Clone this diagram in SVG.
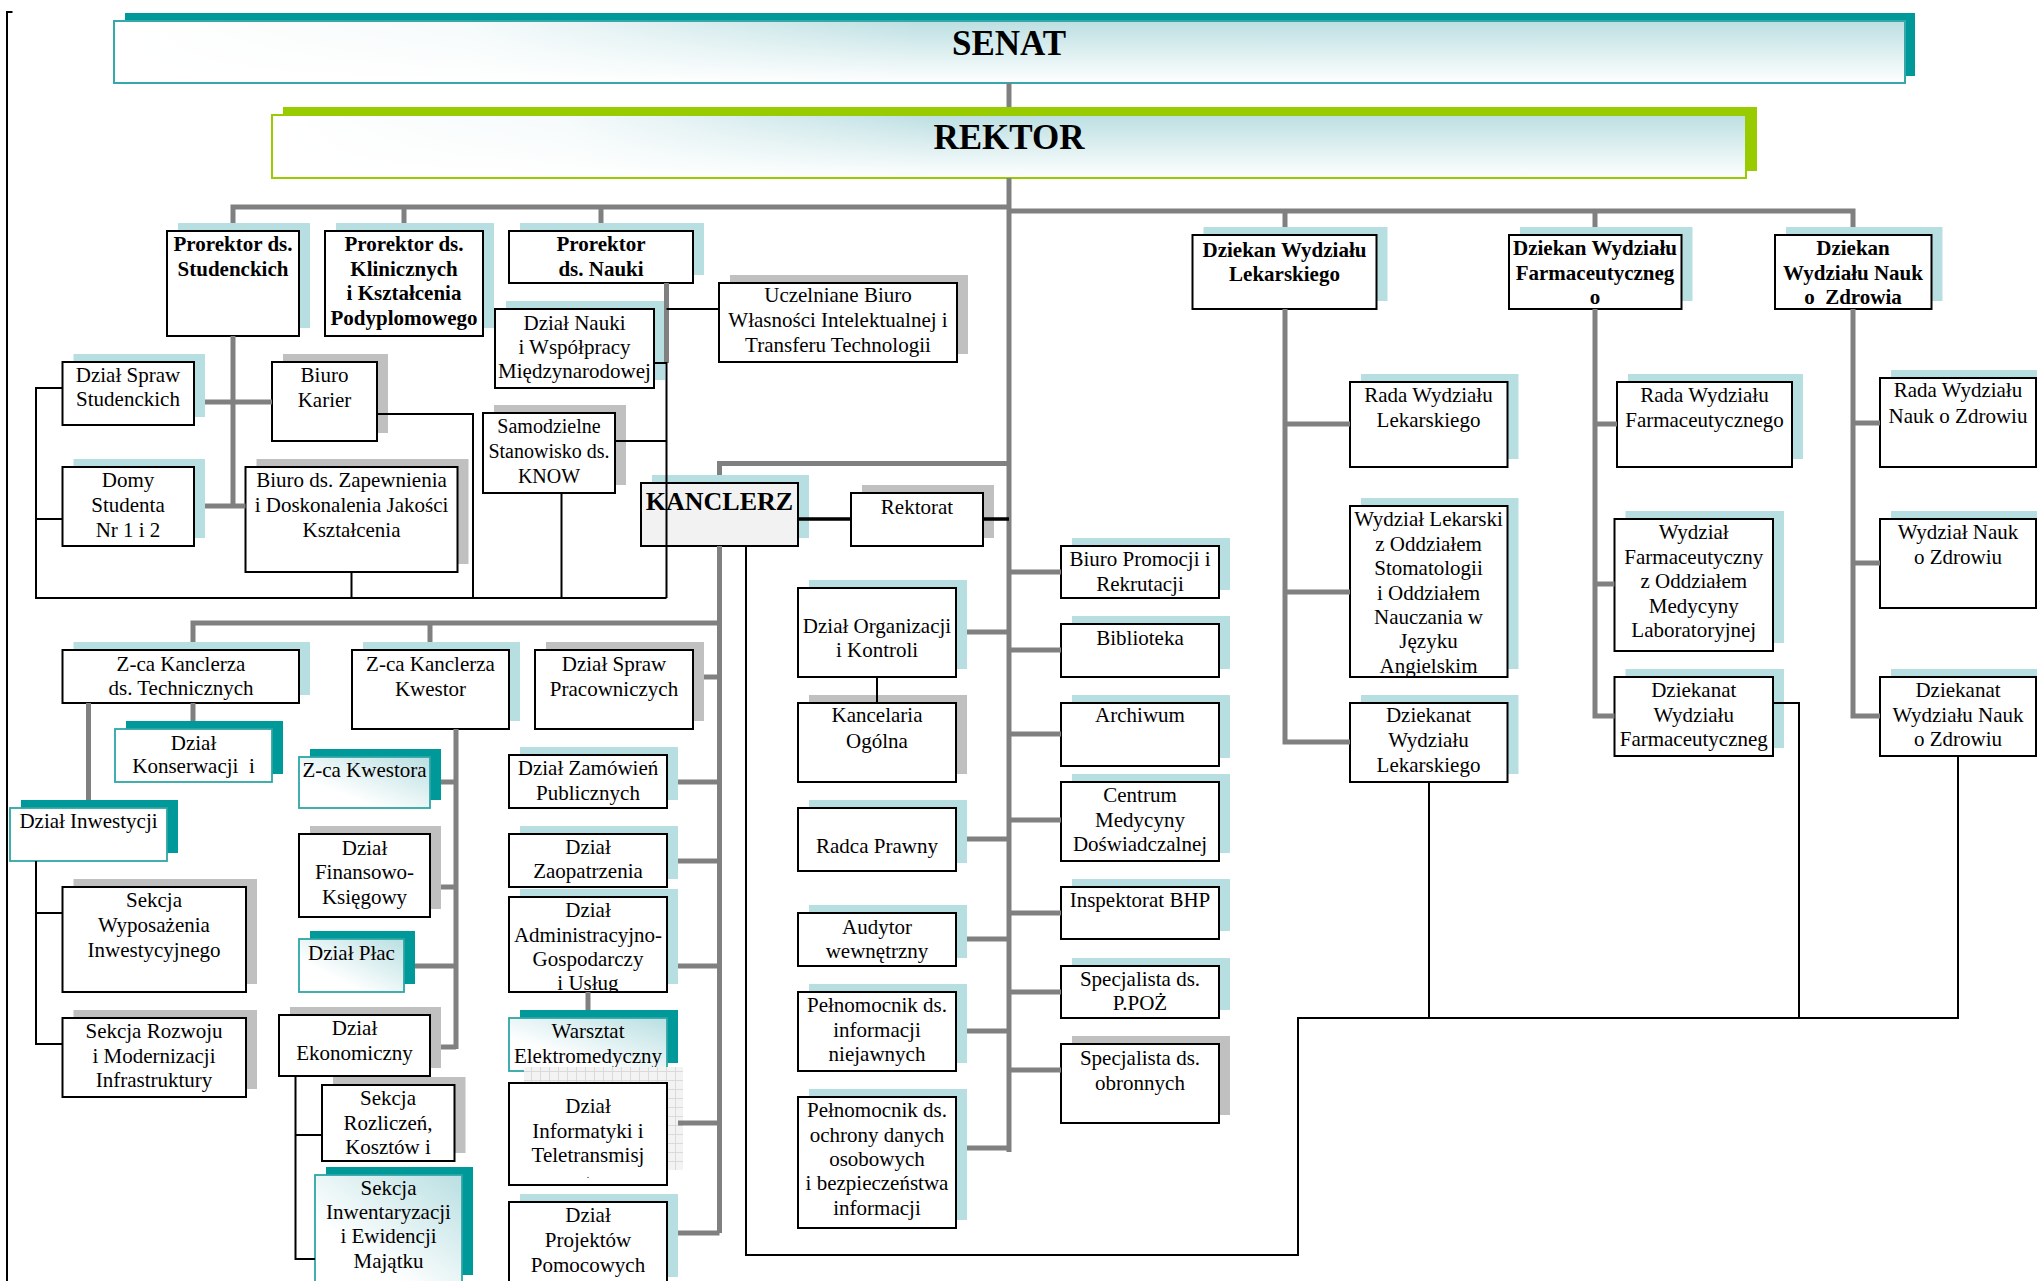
<svg xmlns="http://www.w3.org/2000/svg" width="2037" height="1281" viewBox="0 0 2037 1281">
<defs>
<linearGradient id="gv" x1="0" y1="0" x2="0" y2="1">
<stop offset="0" stop-color="#bcdfe2"/><stop offset="1" stop-color="#ffffff"/>
</linearGradient>
<linearGradient id="gh" x1="0" y1="0" x2="1" y2="0">
<stop offset="0" stop-color="#fff" stop-opacity="1"/><stop offset="0.2" stop-color="#fff" stop-opacity="0.85"/><stop offset="0.45" stop-color="#fff" stop-opacity="0"/>
</linearGradient>
<linearGradient id="gt" x1="0" y1="1" x2="1" y2="0">
<stop offset="0.3" stop-color="#ffffff"/><stop offset="1" stop-color="#b9dfe2"/>
</linearGradient>
<pattern id="grid" width="9" height="9" patternUnits="userSpaceOnUse">
<rect width="9" height="9" fill="#f3f3f3"/><path d="M0 0.5H9M0.5 0V9" stroke="#dadada" stroke-width="1"/>
</pattern>
<clipPath id="cAdm"><rect x="509" y="897" width="158" height="95"/></clipPath>
<clipPath id="cWL"><rect x="1350" y="506" width="157.5" height="171"/></clipPath>
<style>
.bx{fill:#fff;stroke:#000;stroke-width:2}
.tw{fill:#fff;stroke:#2ea6a6;stroke-width:1.8}
.tg{fill:url(#gt);stroke:#2ea6a6;stroke-width:1.8}
.lb{fill:#b7dfe2}
.gr{fill:#c0c0c0}
.te{fill:#009999}
.t{font-family:"Liberation Serif","Times New Roman",serif;font-size:21px;text-anchor:middle;fill:#000}
.b{font-weight:bold}
.c{fill:none;stroke:#808080;stroke-width:5}
.k{fill:none;stroke:#000;stroke-width:2}
.kk{fill:none;stroke:#000;stroke-width:3.5}
</style>
</defs>
<rect width="2037" height="1281" fill="#fff"/>

<g id="senat">
<rect class="te" x="125" y="13" width="1790" height="63"/>
<rect x="114" y="21" width="1791" height="62" fill="url(#gv)" stroke="#35a9a9" stroke-width="2"/>
<rect x="115" y="22" width="1789" height="60" fill="url(#gh)"/>
<text class="t b" x="1009" y="55" style="font-size:35px">SENAT</text>
</g>

<g id="rektor">
<rect x="283" y="107" width="1474" height="64" fill="#99cc00"/>
<rect x="272" y="115" width="1474" height="63" fill="url(#gv)" stroke="#99cc00" stroke-width="2"/>
<rect x="273" y="116" width="1472" height="61" fill="url(#gh)"/>
<text class="t b" x="1009" y="149" style="font-size:35px">REKTOR</text>
</g>

<g id="prorektor-studenckich">
<rect class="lb" x="178" y="223" width="132" height="105"/>
<rect class="bx" x="167" y="231" width="132" height="105"/>
<text class="t b"><tspan x="233" y="251">Prorektor ds.</tspan><tspan x="233" y="276">Studenckich</tspan></text>
</g>
<g id="prorektor-klinicznych">
<rect class="lb" x="336" y="223" width="158" height="105"/>
<rect class="bx" x="325" y="231" width="158" height="105"/>
<text class="t b"><tspan x="404" y="251">Prorektor ds.</tspan><tspan x="404" y="276">Klinicznych</tspan><tspan x="404" y="300">i Kształcenia</tspan><tspan x="404" y="325">Podyplomowego</tspan></text>
</g>
<g id="prorektor-nauki">
<rect class="lb" x="520" y="223" width="184" height="52"/>
<rect class="bx" x="509" y="231" width="184" height="52"/>
<text class="t b"><tspan x="601" y="251">Prorektor</tspan><tspan x="601" y="276">ds. Nauki</tspan></text>
</g>
<g id="uczelniane-biuro">
<rect class="gr" x="730" y="275" width="238" height="79"/>
<rect class="bx" x="719" y="283" width="238" height="79"/>
<text class="t"><tspan x="838" y="302">Uczelniane Biuro</tspan><tspan x="838" y="327">Własności Intelektualnej i</tspan><tspan x="838" y="352">Transferu Technologii</tspan></text>
</g>
<g id="dzial-nauki">
<rect class="lb" x="506" y="301" width="159" height="79"/>
<rect class="bx" x="495" y="309" width="159" height="79"/>
<text class="t"><tspan x="574.5" y="330">Dział Nauki</tspan><tspan x="574.5" y="354">i Współpracy</tspan><tspan x="574.5" y="378">Międzynarodowej</tspan></text>
</g>
<g id="dzial-spraw-studenckich">
<rect class="lb" x="73.5" y="354" width="131.5" height="63"/>
<rect class="bx" x="62.5" y="362" width="131.5" height="63"/>
<text class="t"><tspan x="128" y="382">Dział Spraw</tspan><tspan x="128" y="406">Studenckich</tspan></text>
</g>
<g id="biuro-karier">
<rect class="gr" x="283" y="354" width="105" height="79"/>
<rect class="bx" x="272" y="362" width="105" height="79"/>
<text class="t"><tspan x="324.5" y="382">Biuro</tspan><tspan x="324.5" y="407">Karier</tspan></text>
</g>
<g id="know">
<rect class="gr" x="494" y="405" width="132" height="80"/>
<rect class="bx" x="483" y="413" width="132" height="80"/>
<text class="t" style="font-size:20px"><tspan x="549" y="433">Samodzielne</tspan><tspan x="549" y="458">Stanowisko ds.</tspan><tspan x="549" y="483">KNOW</tspan></text>
</g>
<g id="domy-studenta">
<rect class="lb" x="73.5" y="459" width="131.5" height="79"/>
<rect class="bx" x="62.5" y="467" width="131.5" height="79"/>
<text class="t"><tspan x="128" y="487">Domy</tspan><tspan x="128" y="512">Studenta</tspan><tspan x="128" y="537">Nr 1 i 2</tspan></text>
</g>
<g id="biuro-jakosci">
<rect class="gr" x="256.5" y="459" width="212" height="105"/>
<rect class="bx" x="245.5" y="467" width="212" height="105"/>
<text class="t"><tspan x="351.5" y="487">Biuro ds. Zapewnienia</tspan><tspan x="351.5" y="512">i Doskonalenia Jakości</tspan><tspan x="351.5" y="537">Kształcenia</tspan></text>
</g>

<g id="kanclerz">
<rect class="lb" x="652" y="475" width="157" height="63"/>
<rect x="641" y="483" width="157" height="63" fill="#f2f2f2" stroke="#000" stroke-width="2"/>
<text class="t b" x="719.5" y="510" style="font-size:26px">KANCLERZ</text>
</g>
<g id="rektorat">
<rect class="gr" x="862" y="485" width="132" height="53"/>
<rect class="bx" x="851" y="493" width="132" height="53"/>
<text class="t" x="917" y="514">Rektorat</text>
</g>

<g id="biuro-promocji">
<rect class="lb" x="1072" y="538" width="158" height="52"/>
<rect class="bx" x="1061" y="546" width="158" height="52"/>
<text class="t"><tspan x="1140" y="566">Biuro Promocji i</tspan><tspan x="1140" y="591">Rekrutacji</tspan></text>
</g>
<g id="biblioteka">
<rect class="lb" x="1072" y="616" width="158" height="53"/>
<rect class="bx" x="1061" y="624" width="158" height="53"/>
<text class="t" x="1140" y="645">Biblioteka</text>
</g>
<g id="archiwum">
<rect class="lb" x="1072" y="695" width="158" height="63"/>
<rect class="bx" x="1061" y="703" width="158" height="63"/>
<text class="t" x="1140" y="722">Archiwum</text>
</g>
<g id="centrum-medycyny">
<rect class="lb" x="1072" y="774" width="158" height="79"/>
<rect class="bx" x="1061" y="782" width="158" height="79"/>
<text class="t"><tspan x="1140" y="802">Centrum</tspan><tspan x="1140" y="827">Medycyny</tspan><tspan x="1140" y="851">Doświadczalnej</tspan></text>
</g>
<g id="inspektorat-bhp">
<rect class="lb" x="1072" y="879" width="158" height="52"/>
<rect class="bx" x="1061" y="887" width="158" height="52"/>
<text class="t" x="1140" y="907">Inspektorat BHP</text>
</g>
<g id="specjalista-ppoz">
<rect class="lb" x="1072" y="958" width="158" height="52"/>
<rect class="bx" x="1061" y="966" width="158" height="52"/>
<text class="t"><tspan x="1140" y="986">Specjalista ds.</tspan><tspan x="1140" y="1010">P.POŻ</tspan></text>
</g>
<g id="specjalista-obronnych">
<rect class="gr" x="1072" y="1036" width="158" height="79"/>
<rect class="bx" x="1061" y="1044" width="158" height="79"/>
<text class="t"><tspan x="1140" y="1065">Specjalista ds.</tspan><tspan x="1140" y="1090">obronnych</tspan></text>
</g>

<g id="dzial-organizacji">
<rect class="lb" x="809" y="580" width="158" height="89"/>
<rect class="bx" x="798" y="588" width="158" height="89"/>
<text class="t"><tspan x="877" y="633">Dział Organizacji</tspan><tspan x="877" y="657">i Kontroli</tspan></text>
</g>
<g id="kancelaria">
<rect class="gr" x="809" y="695" width="158" height="79"/>
<rect class="bx" x="798" y="703" width="158" height="79"/>
<text class="t"><tspan x="877" y="722">Kancelaria</tspan><tspan x="877" y="748">Ogólna</tspan></text>
</g>
<g id="radca-prawny">
<rect class="lb" x="809" y="800" width="158" height="63"/>
<rect class="bx" x="798" y="808" width="158" height="63"/>
<text class="t" x="877" y="853">Radca Prawny</text>
</g>
<g id="audytor">
<rect class="lb" x="809" y="905" width="158" height="53"/>
<rect class="bx" x="798" y="913" width="158" height="53"/>
<text class="t"><tspan x="877" y="934">Audytor</tspan><tspan x="877" y="958">wewnętrzny</tspan></text>
</g>
<g id="pelnomocnik-niejawne">
<rect class="lb" x="809" y="984" width="158" height="79"/>
<rect class="bx" x="798" y="992" width="158" height="79"/>
<text class="t"><tspan x="877" y="1012">Pełnomocnik ds.</tspan><tspan x="877" y="1037">informacji</tspan><tspan x="877" y="1061">niejawnych</tspan></text>
</g>
<g id="pelnomocnik-ochrona">
<rect class="lb" x="809" y="1089" width="158" height="131"/>
<rect class="bx" x="798" y="1097" width="158" height="131"/>
<text class="t"><tspan x="877" y="1117">Pełnomocnik ds.</tspan><tspan x="877" y="1142">ochrony danych</tspan><tspan x="877" y="1166">osobowych</tspan><tspan x="877" y="1190">i bezpieczeństwa</tspan><tspan x="877" y="1215">informacji</tspan></text>
</g>

<g id="zca-technicznych">
<rect class="lb" x="73.5" y="642" width="236.5" height="53"/>
<rect class="bx" x="62.5" y="650" width="236.5" height="53"/>
<text class="t"><tspan x="181" y="671">Z-ca Kanclerza</tspan><tspan x="181" y="695">ds. Technicznych</tspan></text>
</g>
<g id="zca-kwestor">
<rect class="lb" x="363" y="642" width="157" height="79"/>
<rect class="bx" x="352" y="650" width="157" height="79"/>
<text class="t"><tspan x="430.5" y="671">Z-ca Kanclerza</tspan><tspan x="430.5" y="696">Kwestor</tspan></text>
</g>
<g id="dzial-spraw-pracowniczych">
<rect class="gr" x="546" y="642" width="158" height="79"/>
<rect class="bx" x="535" y="650" width="158" height="79"/>
<text class="t"><tspan x="614" y="671">Dział Spraw</tspan><tspan x="614" y="696">Pracowniczych</tspan></text>
</g>
<g id="dzial-konserwacji">
<rect class="te" x="126" y="721" width="157" height="53"/>
<rect class="tw" x="115" y="729" width="157" height="53"/>
<text class="t"><tspan x="193.5" y="750">Dział</tspan><tspan x="193.5" y="773">Konserwacji&#160; i</tspan></text>
</g>
<g id="zca-kwestora">
<rect class="te" x="310" y="749" width="131" height="51"/>
<rect class="tg" x="299" y="757" width="131" height="51"/>
<text class="t" x="364.5" y="777">Z-ca Kwestora</text>
</g>
<g id="dzial-zamowien">
<rect class="lb" x="520" y="747" width="158" height="53"/>
<rect class="bx" x="509" y="755" width="158" height="53"/>
<text class="t"><tspan x="588" y="775">Dział Zamówień</tspan><tspan x="588" y="800">Publicznych</tspan></text>
</g>
<g id="dzial-inwestycji">
<rect class="te" x="21" y="800" width="157" height="53"/>
<rect class="tw" x="10" y="808" width="157" height="53"/>
<text class="t" x="88.5" y="828">Dział Inwestycji</text>
</g>
<g id="dzial-finansowo">
<rect class="gr" x="310" y="826" width="131" height="83"/>
<rect class="bx" x="299" y="834" width="131" height="83"/>
<text class="t"><tspan x="364.5" y="855">Dział</tspan><tspan x="364.5" y="879">Finansowo-</tspan><tspan x="364.5" y="904">Księgowy</tspan></text>
</g>
<g id="dzial-zaopatrzenia">
<rect class="lb" x="520" y="826" width="158" height="53"/>
<rect class="bx" x="509" y="834" width="158" height="53"/>
<text class="t"><tspan x="588" y="854">Dział</tspan><tspan x="588" y="878">Zaopatrzenia</tspan></text>
</g>
<g id="sekcja-wyposazenia">
<rect class="gr" x="73.5" y="879" width="183.5" height="105"/>
<rect class="bx" x="62.5" y="887" width="183.5" height="105"/>
<text class="t"><tspan x="154" y="907">Sekcja</tspan><tspan x="154" y="932">Wyposażenia</tspan><tspan x="154" y="957">Inwestycyjnego</tspan></text>
</g>
<g id="dzial-administracyjny">
<rect class="lb" x="520" y="889" width="158" height="95"/>
<rect class="bx" x="509" y="897" width="158" height="95"/>
<text class="t" clip-path="url(#cAdm)"><tspan x="588" y="917">Dział</tspan><tspan x="588" y="942">Administracyjno-</tspan><tspan x="588" y="966">Gospodarczy</tspan><tspan x="588" y="990">i Usług</tspan></text>
</g>
<g id="dzial-plac">
<rect class="te" x="310" y="931" width="105" height="53"/>
<rect class="tg" x="299" y="939" width="105" height="53"/>
<text class="t" x="351.5" y="960">Dział Płac</text>
</g>
<g id="warsztat">
<rect class="te" x="520" y="1010" width="158" height="53"/>
<rect class="tg" x="509" y="1018" width="158" height="53"/>
<text class="t"><tspan x="588" y="1038">Warsztat</tspan><tspan x="588" y="1063">Elektromedyczny</tspan></text>
</g>
<g id="dzial-ekonomiczny">
<rect class="gr" x="290" y="1007" width="151" height="61"/>
<rect class="bx" x="279" y="1015" width="151" height="61"/>
<text class="t"><tspan x="354.5" y="1035">Dział</tspan><tspan x="354.5" y="1060">Ekonomiczny</tspan></text>
</g>
<g id="sekcja-rozwoju">
<rect class="gr" x="73.5" y="1010" width="183.5" height="79"/>
<rect class="bx" x="62.5" y="1018" width="183.5" height="79"/>
<text class="t"><tspan x="154" y="1038">Sekcja Rozwoju</tspan><tspan x="154" y="1063">i Modernizacji</tspan><tspan x="154" y="1087">Infrastruktury</tspan></text>
</g>
<g id="dzial-informatyki">
<rect x="524" y="1067" width="159" height="103" fill="url(#grid)"/>
<rect class="bx" x="509" y="1083" width="158" height="102"/>
<text class="t"><tspan x="588" y="1113">Dział</tspan><tspan x="588" y="1138">Informatyki i</tspan><tspan x="588" y="1162">Teletransmisj</tspan></text>
<text class="t" x="588" y="1178" style="font-size:10px">.</text>
</g>
<g id="sekcja-rozliczen">
<rect class="gr" x="333" y="1077" width="132.5" height="76"/>
<rect class="bx" x="322" y="1085" width="132.5" height="76"/>
<text class="t"><tspan x="388" y="1105">Sekcja</tspan><tspan x="388" y="1130">Rozliczeń,</tspan><tspan x="388" y="1154">Kosztów i</tspan></text>
</g>
<g id="sekcja-inwentaryzacji">
<rect class="te" x="326" y="1167" width="147" height="108"/>
<rect class="tg" x="315" y="1175" width="147" height="110"/>
<text class="t"><tspan x="388.5" y="1195">Sekcja</tspan><tspan x="388.5" y="1219">Inwentaryzacji</tspan><tspan x="388.5" y="1243">i Ewidencji</tspan><tspan x="388.5" y="1268">Majątku</tspan></text>
</g>
<g id="dzial-projektow">
<rect class="lb" x="520" y="1194" width="158" height="83"/>
<rect class="bx" x="509" y="1202" width="158" height="100"/>
<text class="t"><tspan x="588" y="1222">Dział</tspan><tspan x="588" y="1247">Projektów</tspan><tspan x="588" y="1272">Pomocowych</tspan></text>
</g>

<g id="dziekan-lekarski">
<rect class="lb" x="1203.5" y="227" width="184" height="74"/>
<rect class="bx" x="1192.5" y="235" width="184" height="74"/>
<text class="t b"><tspan x="1284.5" y="257">Dziekan Wydziału</tspan><tspan x="1284.5" y="281">Lekarskiego</tspan></text>
</g>
<g id="dziekan-farmaceutyczny">
<rect class="lb" x="1520" y="227" width="172.5" height="74"/>
<rect class="bx" x="1509" y="235" width="172.5" height="74"/>
<text class="t b"><tspan x="1595" y="255">Dziekan Wydziału</tspan><tspan x="1595" y="280">Farmaceutyczneg</tspan><tspan x="1595" y="304">o</tspan></text>
</g>
<g id="dziekan-nauk-o-zdrowiu">
<rect class="lb" x="1786" y="227" width="156.5" height="74"/>
<rect class="bx" x="1775" y="235" width="156.5" height="74"/>
<text class="t b"><tspan x="1853" y="255">Dziekan</tspan><tspan x="1853" y="280">Wydziału Nauk</tspan><tspan x="1853" y="304">o&#160; Zdrowia</tspan></text>
</g>
<g id="rada-lekarski">
<rect class="lb" x="1361" y="374" width="157.5" height="85"/>
<rect class="bx" x="1350" y="382" width="157.5" height="85"/>
<text class="t"><tspan x="1428.5" y="402">Rada Wydziału</tspan><tspan x="1428.5" y="427">Lekarskiego</tspan></text>
</g>
<g id="rada-farmaceutyczny">
<rect class="lb" x="1628" y="374" width="175" height="85"/>
<rect class="bx" x="1617" y="382" width="175" height="85"/>
<text class="t"><tspan x="1704.5" y="402">Rada Wydziału</tspan><tspan x="1704.5" y="427">Farmaceutycznego</tspan></text>
</g>
<g id="rada-nauk-o-zdrowiu">
<rect class="lb" x="1891" y="370" width="156" height="89"/>
<rect class="bx" x="1880" y="378" width="156" height="89"/>
<text class="t"><tspan x="1958" y="397">Rada Wydziału</tspan><tspan x="1958" y="423">Nauk o Zdrowiu</tspan></text>
</g>
<g id="wydzial-lekarski">
<rect class="lb" x="1361" y="498" width="157.5" height="171"/>
<rect class="bx" x="1350" y="506" width="157.5" height="171"/>
<text class="t" clip-path="url(#cWL)"><tspan x="1428.5" y="526">Wydział Lekarski</tspan><tspan x="1428.5" y="551">z Oddziałem</tspan><tspan x="1428.5" y="575">Stomatologii</tspan><tspan x="1428.5" y="600">i Oddziałem</tspan><tspan x="1428.5" y="624">Nauczania w</tspan><tspan x="1428.5" y="648">Języku</tspan><tspan x="1428.5" y="673">Angielskim</tspan></text>
</g>
<g id="wydzial-farmaceutyczny">
<rect class="lb" x="1625.5" y="511" width="158.5" height="132"/>
<rect class="bx" x="1614.5" y="519" width="158.5" height="132"/>
<text class="t"><tspan x="1693.75" y="539">Wydział</tspan><tspan x="1693.75" y="564">Farmaceutyczny</tspan><tspan x="1693.75" y="588">z Oddziałem</tspan><tspan x="1693.75" y="613">Medycyny</tspan><tspan x="1693.75" y="637">Laboratoryjnej</tspan></text>
</g>
<g id="wydzial-nauk-o-zdrowiu">
<rect class="lb" x="1891" y="511" width="156" height="89"/>
<rect class="bx" x="1880" y="519" width="156" height="89"/>
<text class="t"><tspan x="1958" y="539">Wydział Nauk</tspan><tspan x="1958" y="564">o Zdrowiu</tspan></text>
</g>
<g id="dziekanat-lekarski">
<rect class="lb" x="1361" y="695" width="157.5" height="79"/>
<rect class="bx" x="1350" y="703" width="157.5" height="79"/>
<text class="t"><tspan x="1428.5" y="722">Dziekanat</tspan><tspan x="1428.5" y="747">Wydziału</tspan><tspan x="1428.5" y="772">Lekarskiego</tspan></text>
</g>
<g id="dziekanat-farmaceutyczny">
<rect class="lb" x="1625.5" y="669" width="158.5" height="79"/>
<rect class="bx" x="1614.5" y="677" width="158.5" height="79"/>
<text class="t"><tspan x="1693.75" y="697">Dziekanat</tspan><tspan x="1693.75" y="722">Wydziału</tspan><tspan x="1693.75" y="746">Farmaceutyczneg</tspan></text>
</g>
<g id="dziekanat-nauk-o-zdrowiu">
<rect class="lb" x="1891" y="669" width="156" height="79"/>
<rect class="bx" x="1880" y="677" width="156" height="79"/>
<text class="t"><tspan x="1958" y="697">Dziekanat</tspan><tspan x="1958" y="722">Wydziału Nauk</tspan><tspan x="1958" y="746">o Zdrowiu</tspan></text>
</g>

<g id="connectors">
<path class="c" d="M1009 83V107"/>
<path class="c" d="M1009 178V1152"/>
<path class="c" d="M233 223V207H1009M404 207V223M601 207V223"/>
<path class="c" d="M1009 211H1853V227M1285 211V227M1595 211V227"/>
<path class="c" d="M233 336V506M205 402H272M205 506H245.5"/>
<path class="c" d="M666.5 283V363"/>
<path class="c" d="M1009 463.5H719.5V475"/>
<path class="c" d="M719.5 546V1233"/>
<path class="c" d="M719.5 623H193V642M430 623V642"/>
<path class="c" d="M704 677H719.5M678 782H719.5M678 861H719.5M678 966H719.5M678 1123H719.5M678 1233H719.5"/>
<path class="c" d="M588 992V1010"/>
<path class="c" d="M456 729V1049M441 782H456M441 887H456M415 966H456M441 1047H456"/>
<path class="c" d="M88.5 703V800M193 703V721"/>
<path class="c" d="M967 632H1009M967 839H1009M967 939H1009M967 1031H1009M967 1148H1009"/>
<path class="c" d="M1009 572H1061M1009 650H1061M1009 734H1061M1009 820H1061M1009 913H1061M1009 992H1061M1009 1070H1061"/>
<path class="c" d="M1285 309V742H1350M1285 424H1350M1285 592H1350"/>
<path class="c" d="M1595 309V716H1614.5M1595 424H1617M1595 584H1614.5"/>
<path class="c" d="M1853 309V716H1880M1853 423H1880M1853 563H1880"/>
<path class="k" d="M12.5 12H7V1281"/>
<path class="k" d="M62.5 388H36V598H666.5M36 519H62.5"/>
<path class="k" d="M351.5 572V598M561.5 493V598M377 414H473V598M654 363H666.5V598M615 441H666.5M666.5 309H719"/>
<path class="k" d="M36 861V1044H62.5M36 913H62.5"/>
<path class="k" d="M295.5 1076V1259H315M295.5 1135H322"/>
<path class="k" d="M877 677V703"/>
<path class="kk" d="M798 519H851M983 519H1009"/>
<path class="k" d="M746 546V1255H1298V1018H1958V756M1429 782V1018M1773 703H1799V1018"/>
</g>
</svg>
